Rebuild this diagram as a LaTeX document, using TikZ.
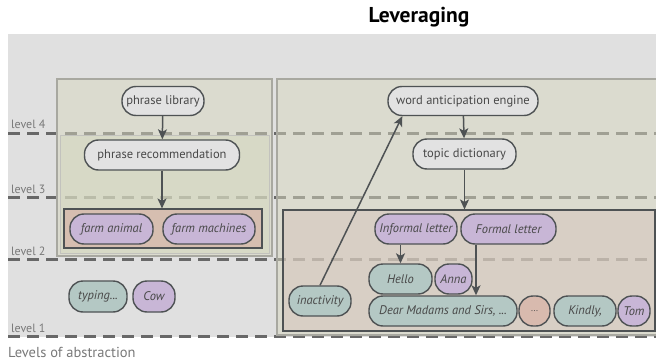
\documentclass[tikz,border=0pt]{standalone}
\usepackage{fontspec}
\setmainfont{PT Sans}
\usetikzlibrary{arrows.meta}
\definecolor{bgc}{RGB}{224,224,224}
\definecolor{panelc}{RGB}{216,216,192}
\definecolor{innerc}{RGB}{212,216,190}
\definecolor{lpinkc}{RGB}{214,164,156}
\definecolor{rpinkc}{RGB}{214,196,188}
\definecolor{levc}{RGB}{104,104,104}
\definecolor{panedge}{RGB}{168,168,160}
\definecolor{edgec}{RGB}{78,82,84}
\definecolor{txtc}{RGB}{72,72,72}
\definecolor{labc}{RGB}{120,120,120}
\definecolor{nodeg}{RGB}{226,226,226}
\definecolor{tealc}{RGB}{180,200,196}
\definecolor{purpc}{RGB}{200,182,214}
\definecolor{pinkc}{RGB}{216,186,174}
\begin{document}
\begin{tikzpicture}[x=1pt,y=-1pt,
  pill/.style={draw=edgec, line width=1.4pt, rounded corners=14pt, minimum height=29pt, inner sep=0pt, text=txtc, font=\fontsize{12.5}{14}\selectfont},
  gnode/.style={pill, fill=nodeg},
  tnode/.style={pill, fill=tealc, font=\fontsize{12.5}{14}\selectfont\itshape},
  pnode/.style={pill, fill=purpc, font=\fontsize{12.5}{14}\selectfont\itshape},
  knode/.style={pill, fill=pinkc, font=\fontsize{12.5}{14}\selectfont\itshape},
  levline/.style={draw=levc, line width=3pt, dash pattern=on 12pt off 7pt},
  panel/.style={fill=panelc, fill opacity=0.5, draw=panedge, line width=1.5pt},
  box/.style={draw=edgec, line width=1.1pt, fill opacity=0.5, inner sep=0pt},
  levlab/.style={text=labc, font=\fontsize{12}{14}\selectfont, anchor=base west, inner sep=0pt},
  arr/.style={draw=edgec, line width=1.5pt, -{Stealth[length=10pt,width=9pt,inset=2.5pt]}}
]
\useasboundingbox (0,0) rectangle (656,361);
% title
\node[font=\fontsize{21.5}{24}\selectfont\bfseries, text=black] (title) at (419,17) {Leveraging};
% background
\fill[bgc] (8,34) rectangle (656,337);
% level lines
\draw[levline] (8,133) -- (656,133);
\draw[levline] (8,197) -- (656,197);
\draw[levline] (8,259) -- (656,259);
\draw[levline] (8,336) -- (656,336);
% panels
\draw[panel] (57,79) rectangle (272,256);
\draw[panel] (277,79) rectangle (660,335);
\draw[fill=innerc, fill opacity=0.5, draw=panedge!70, line width=1pt] (60,135) rectangle (269,253);
\node[box, fill=lpinkc, minimum width=198pt, minimum height=39pt] (lpink) at (163,228.5) {};
\node[box, fill=rpinkc, minimum width=372pt, minimum height=121pt] (rpink) at (469,270.5) {};
% labels
\node[levlab] (l4) at (11,128) {level 4};
\node[levlab] (l3) at (11,193) {level 3};
\node[levlab] (l2) at (11,255) {level 2};
\node[levlab] (l1) at (11,332) {level 1};
\node[levlab, font=\fontsize{14.5}{16}\selectfont] (loa) at (8,357) {Levels of abstraction};
% nodes
\node[gnode, minimum width=82pt] (plib) at (163,101) {phrase library};
\node[gnode, minimum width=150pt] (wae) at (463,101) {word anticipation engine};
\node[gnode, minimum width=155pt, minimum height=30pt] (prec) at (162,155) {phrase recommendation};
\node[gnode, minimum width=103pt, minimum height=30pt] (topic) at (464.5,154) {topic dictionary};
\node[pnode, minimum width=83pt, minimum height=30pt] (fanimal) at (111.5,229) {farm animal};
\node[pnode, minimum width=92pt, minimum height=30pt] (fmach) at (209,229) {farm machines};
\node[pnode, minimum width=82pt, minimum height=30pt] (informal) at (416,229) {Informal letter};
\node[pnode, minimum width=95pt, minimum height=30pt] (formal) at (508.5,229) {Formal letter};
\node[tnode, minimum width=63pt, minimum height=30pt] (hello) at (400.5,279) {Hello};
\node[pnode, minimum width=37pt, minimum height=30pt] (anna) at (453.5,279) {Anna};
\node[tnode, minimum width=62pt, minimum height=30pt] (inact) at (320,301) {inactivity};
\node[tnode, minimum width=148pt, minimum height=30pt] (dear) at (443,311) {Dear Madams and Sirs, ...};
\node[knode, minimum width=31pt, minimum height=30pt, font=\fontsize{9}{10}\selectfont] (dots) at (534.5,311) {...};
\node[tnode, minimum width=62pt, minimum height=30pt] (kindly) at (585,311) {Kindly,};
\node[pnode, minimum width=32pt, minimum height=30pt] (tom) at (634,311) {Tom};
\node[tnode, minimum width=58pt, minimum height=31pt] (typing) at (98,296.5) {typing...};
\node[pnode, minimum width=42pt, minimum height=31pt] (cow) at (154,296.5) {Cow};
% arrows
\draw[arr] (plib) -- (prec);
\draw[arr] (prec.south) -- (prec.south |- lpink.north);
\draw[arr] (wae) -- (topic);
\draw[arr] (topic.south) -- (topic.south |- rpink.north);
\draw[arr] (informal.south -| hello.north) -- (hello.north);
\draw[arr] ([xshift=-32.5pt]formal.south) -- ([xshift=-32.5pt]formal.south |- dear.north);
\draw[arr] (inact.north) -- ([xshift=15pt]wae.south west);
\end{tikzpicture}
\end{document}
